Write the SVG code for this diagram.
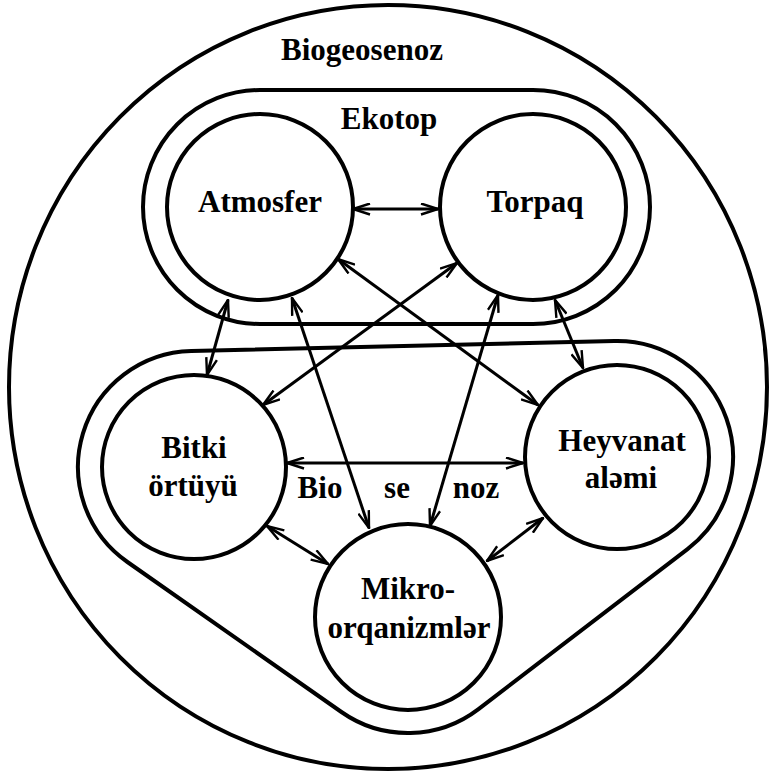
<svg xmlns="http://www.w3.org/2000/svg" width="770" height="776" viewBox="0 0 770 776">
  <style>
    .ring { fill: none; stroke: #000; stroke-width: 4; }
    .node { fill: #fff; stroke: #000; stroke-width: 4; }
    .link { fill: none; stroke: #000; stroke-width: 3; marker-start: url(#ah); marker-end: url(#ah); }
    .lbl { font-family: "Liberation Serif", "Times New Roman", serif; font-weight: bold; font-size: 31px; fill: #000; text-anchor: middle; }
  </style>
  <defs>
    <marker id="ah" viewBox="0 0 19 13" refX="18" refY="6.5" markerWidth="19" markerHeight="13" markerUnits="userSpaceOnUse" orient="auto-start-reverse">
      <path d="M1,1 L18,6.5 L1,12" fill="none" stroke="#000" stroke-width="2.4" stroke-linejoin="miter"/>
    </marker>
  </defs>
  <rect width="770" height="776" fill="#fff"/>

  <!-- outer boundary: Biogeosenoz -->
  <g id="biogeosenoz">
    <ellipse class="ring" cx="388" cy="387" rx="379" ry="382"/>
    <text class="lbl" x="362" y="60">Biogeosenoz</text>
  </g>

  <!-- Ekotop: stadium around the two abiotic circles -->
  <g id="ekotop">
    <rect class="ring" x="143" y="90" width="507" height="234" rx="117" ry="117"/>
    <text class="lbl" x="389" y="129">Ekotop</text>
  </g>

  <!-- Biosenoz: hull around the three biotic circles -->
  <g id="biosenoz">
    <path class="ring" d="M191.26,351.03 L614.26,341.03 A116,116 0 0 1 687.51,549.11 L478.51,709.11 A116,116 0 0 1 341.42,711.99 L127.42,561.99 A116,116 0 0 1 191.26,351.03 Z"/>
    <text class="lbl" x="320" y="498">Bio</text>
    <text class="lbl" x="397" y="498">se</text>
    <text class="lbl" x="476" y="498">noz</text>
  </g>

  <g id="atmosfer">
    <circle class="node" cx="260" cy="207" r="93"/>
    <text class="lbl" x="260" y="212">Atmosfer</text>
  </g>
  <g id="torpaq">
    <circle class="node" cx="533" cy="207" r="93"/>
    <text class="lbl" x="535" y="212">Torpaq</text>
  </g>
  <g id="bitki">
    <circle class="node" cx="194" cy="467" r="92"/>
    <text class="lbl" x="194" y="458">Bitki</text>
    <text class="lbl" x="193" y="496">örtüyü</text>
  </g>
  <g id="heyvanat">
    <circle class="node" cx="617" cy="457" r="92"/>
    <text class="lbl" x="622" y="451">Heyvanat</text>
    <text class="lbl" x="621" y="488">aləmi</text>
  </g>
  <g id="mikro">
    <circle class="node" cx="408" cy="617" r="93"/>
    <text class="lbl" x="408" y="599">Mikro-</text>
    <text class="lbl" x="409" y="638">orqanizmlər</text>
  </g>

  <!-- two-way links between components -->
  <g id="connectors">
    <line class="link" x1="353" y1="209" x2="438" y2="209"/>
    <line class="link" x1="228" y1="300" x2="207" y2="375"/>
    <line class="link" x1="292" y1="298" x2="369" y2="528"/>
    <line class="link" x1="457" y1="263" x2="263" y2="405"/>
    <line class="link" x1="338" y1="259" x2="538" y2="405"/>
    <line class="link" x1="498" y1="295" x2="430" y2="526"/>
    <line class="link" x1="555" y1="300" x2="583" y2="368"/>
    <line class="link" x1="287" y1="463" x2="523" y2="463"/>
    <line class="link" x1="267" y1="526" x2="328" y2="564"/>
    <line class="link" x1="543" y1="518" x2="487" y2="561"/>
  </g>
</svg>
